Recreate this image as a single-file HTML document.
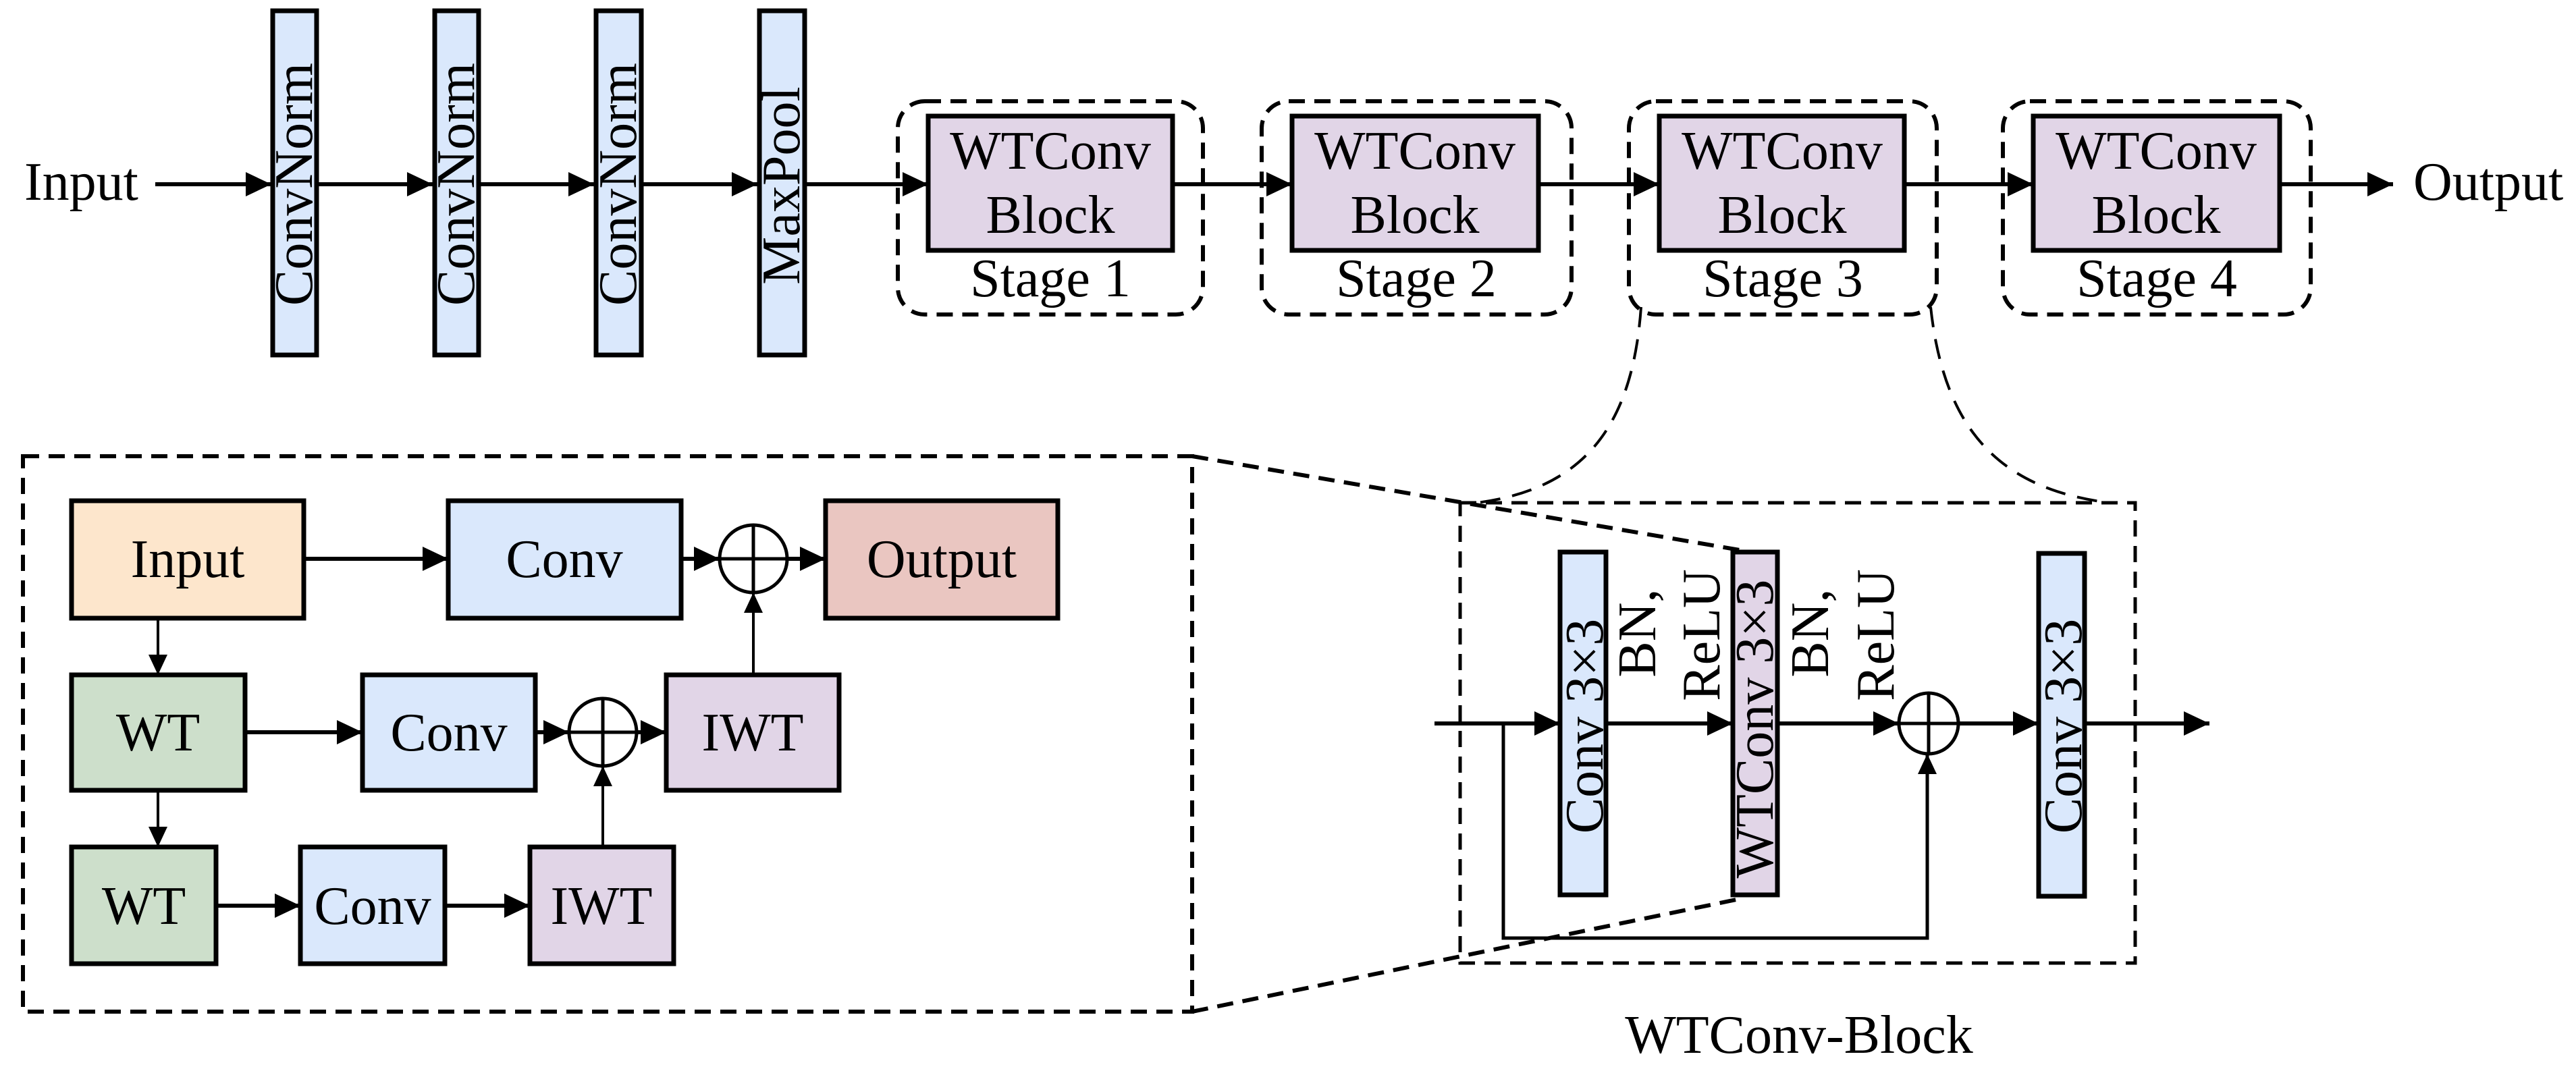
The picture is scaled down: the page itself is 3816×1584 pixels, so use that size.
<!DOCTYPE html>
<html><head><meta charset="utf-8"><style>
html,body{margin:0;padding:0;background:#fff;}
svg{display:block;}
text{font-family:"Liberation Serif",serif;font-size:80px;fill:#000;}
</style></head><body>
<svg width="3816" height="1584" viewBox="0 0 3816 1584" xmlns="http://www.w3.org/2000/svg">
<defs>
<marker id="a" markerUnits="userSpaceOnUse" markerWidth="38" markerHeight="36" viewBox="0 0 36 34" refX="36" refY="17" orient="auto"><path d="M0,0 L36,17 L0,34 z" fill="#000"/></marker>
<marker id="b" markerUnits="userSpaceOnUse" markerWidth="30" markerHeight="30" viewBox="0 0 30 28" refX="30" refY="14" orient="auto"><path d="M0,0 L30,14 L0,28 z" fill="#000"/></marker>
</defs>

<!-- TOP ROW -->
<text x="36" y="296" text-anchor="start">Input</text>
<g stroke="#000" stroke-width="6" fill="none" marker-end="url(#a)">
<line x1="230" y1="273" x2="402" y2="273"/>
<line x1="472" y1="273" x2="641" y2="273"/>
<line x1="712" y1="273" x2="880" y2="273"/>
<line x1="953" y1="273" x2="1122" y2="273"/>
<line x1="1195" y1="273" x2="1375" y2="273"/>
<line x1="1737" y1="273" x2="1914" y2="273"/>
<line x1="2279" y1="273" x2="2458" y2="273"/>
<line x1="2821" y1="273" x2="3012" y2="273"/>
<line x1="3377" y1="273" x2="3545" y2="273"/>
</g>
<text x="3575" y="296" text-anchor="start">Output</text>

<g stroke="#000" stroke-width="7" fill="#dae8fc">
<rect x="404" y="16" width="65" height="510"/>
<rect x="644" y="16" width="65" height="510"/>
<rect x="883" y="16" width="67" height="510"/>
<rect x="1125" y="16" width="67" height="510"/>
</g>
<text transform="rotate(-90 436 273)" x="436" y="299" text-anchor="middle">ConvNorm</text>
<text transform="rotate(-90 676 273)" x="676" y="299" text-anchor="middle">ConvNorm</text>
<text transform="rotate(-90 916 273)" x="916" y="299" text-anchor="middle">ConvNorm</text>
<text transform="rotate(-90 1158 275)" x="1158" y="301" text-anchor="middle">MaxPool</text>

<g stroke="#000" stroke-width="6" fill="none" stroke-dasharray="24 14">
<rect x="1330" y="150" width="452" height="316" rx="40"/>
<rect x="1869" y="150" width="459" height="316" rx="40"/>
<rect x="2413" y="150" width="456" height="316" rx="40"/>
<rect x="2967" y="150" width="456" height="316" rx="40"/>
</g>
<g stroke="#000" stroke-width="7" fill="#e1d5e7">
<rect x="1375" y="172" width="362" height="199"/>
<rect x="1914" y="172" width="365" height="199"/>
<rect x="2458" y="172" width="363" height="199"/>
<rect x="3012" y="172" width="365" height="199"/>
</g>
<g text-anchor="middle">
<text x="1556" y="250">WTConv</text><text x="1556" y="345">Block</text><text x="1556" y="439" font-size="76">Stage 1</text>
<text x="2096" y="250">WTConv</text><text x="2096" y="345">Block</text><text x="2098" y="439" font-size="76">Stage 2</text>
<text x="2640" y="250">WTConv</text><text x="2640" y="345">Block</text><text x="2641" y="439" font-size="76">Stage 3</text>
<text x="3194" y="250">WTConv</text><text x="3194" y="345">Block</text><text x="3195" y="439" font-size="76">Stage 4</text>
</g>

<!-- zoom curves -->
<g stroke="#000" stroke-width="4" fill="none" stroke-dasharray="30 18">
<path d="M2431,455 C2418,640 2340,725 2188,745"/>
<path d="M2860,455 C2880,640 2965,725 3125,745"/>
</g>

<!-- LOWER LEFT big dashed box and trapezoid lines -->
<g stroke="#000" stroke-width="6" fill="none" stroke-dasharray="24 14">
<rect x="34" y="676" width="1732" height="823"/>
<line x1="1766" y1="676" x2="2577" y2="815"/>
<line x1="1766" y1="1499" x2="2577" y2="1332"/>
</g>

<g stroke="#000" stroke-width="7">
<rect x="106" y="742" width="344" height="174" fill="#fde6cc"/>
<rect x="664" y="742" width="345" height="174" fill="#dae8fc"/>
<rect x="1223" y="742" width="344" height="174" fill="#eac6c1"/>
<rect x="106" y="1000" width="257" height="171" fill="#cddfcb"/>
<rect x="537" y="1000" width="256" height="171" fill="#dae8fc"/>
<rect x="987" y="1000" width="256" height="171" fill="#e1d5e7"/>
<rect x="106" y="1255" width="214" height="173" fill="#cddfcb"/>
<rect x="445" y="1255" width="214" height="173" fill="#dae8fc"/>
<rect x="785" y="1255" width="213" height="173" fill="#e1d5e7"/>
</g>
<g stroke="#000" stroke-width="5" fill="#fff">
<ellipse cx="1116" cy="828" rx="50" ry="50"/>
<ellipse cx="893" cy="1085" rx="50" ry="50"/>
</g>
<g stroke="#000" stroke-width="5">
<line x1="1066" y1="828" x2="1166" y2="828"/><line x1="1116" y1="778" x2="1116" y2="878"/>
<line x1="843" y1="1085" x2="943" y2="1085"/><line x1="893" y1="1035" x2="893" y2="1135"/>
</g>
<g stroke="#000" stroke-width="6" fill="none" marker-end="url(#a)">
<line x1="450" y1="828" x2="664" y2="828"/>
<line x1="1009" y1="828" x2="1066" y2="828"/>
<line x1="1166" y1="828" x2="1223" y2="828"/>
<line x1="363" y1="1085" x2="537" y2="1085"/>
<line x1="793" y1="1085" x2="843" y2="1085"/>
<line x1="943" y1="1085" x2="987" y2="1085"/>
<line x1="320" y1="1342" x2="445" y2="1342"/>
<line x1="659" y1="1342" x2="785" y2="1342"/>
</g>
<g stroke="#000" stroke-width="4" fill="none" marker-end="url(#b)">
<line x1="234" y1="916" x2="234" y2="1000"/>
<line x1="234" y1="1171" x2="234" y2="1255"/>
<line x1="893" y1="1255" x2="893" y2="1135"/>
<line x1="1116" y1="1000" x2="1116" y2="878"/>
</g>
<g text-anchor="middle">
<text x="278" y="855">Input</text>
<text x="836" y="855">Conv</text>
<text x="1395" y="855">Output</text>
<text x="234" y="1112">WT</text>
<text x="665" y="1112">Conv</text>
<text x="1115" y="1112">IWT</text>
<text x="213" y="1369">WT</text>
<text x="552" y="1369">Conv</text>
<text x="891" y="1369">IWT</text>
</g>

<!-- WTConv-Block detail -->
<rect x="2163" y="745" width="1000" height="682" stroke="#000" stroke-width="5" fill="none" stroke-dasharray="24 14"/>
<g stroke="#000" stroke-width="7">
<rect x="2311" y="818" width="68" height="508" fill="#dae8fc"/>
<rect x="2567" y="818" width="66" height="508" fill="#e1d5e7"/>
<rect x="3020" y="820" width="68" height="508" fill="#dae8fc"/>
</g>
<!-- redraw trapezoid portion over WTConv bar top/bottom -->
<g stroke="#000" stroke-width="5" fill="none">
<polyline points="2227,1072 2227,1390 2855,1390 2855,1117" marker-end="url(#b)"/>
</g>
<ellipse cx="2857" cy="1072" rx="44" ry="45" stroke="#000" stroke-width="5" fill="#fff"/>
<g stroke="#000" stroke-width="5">
<line x1="2813" y1="1072" x2="2901" y2="1072"/><line x1="2857" y1="1027" x2="2857" y2="1117"/>
</g>
<g stroke="#000" stroke-width="6" fill="none" marker-end="url(#a)">
<line x1="2125" y1="1072" x2="2311" y2="1072"/>
<line x1="2379" y1="1072" x2="2567" y2="1072"/>
<line x1="2633" y1="1072" x2="2813" y2="1072"/>
<line x1="2901" y1="1072" x2="3020" y2="1072"/>
<line x1="3088" y1="1072" x2="3273" y2="1072"/>
</g>
<text transform="rotate(-90 2345 1076)" x="2345" y="1105" text-anchor="middle" font-size="78">Conv 3×3</text>
<text transform="rotate(-90 2600 1080)" x="2600" y="1106" text-anchor="middle" font-size="78">WTConv 3×3</text>
<text transform="rotate(-90 3054 1076)" x="3054" y="1105" text-anchor="middle" font-size="78">Conv 3×3</text>
<text transform="rotate(-90 2425 938)" x="2425" y="965" text-anchor="middle" font-size="78">BN,</text>
<text transform="rotate(-90 2520 941)" x="2520" y="968" text-anchor="middle" font-size="78">ReLU</text>
<text transform="rotate(-90 2681 938)" x="2681" y="965" text-anchor="middle" font-size="78">BN,</text>
<text transform="rotate(-90 2778 941)" x="2778" y="968" text-anchor="middle" font-size="78">ReLU</text>
<text x="2665" y="1560" text-anchor="middle">WTConv-Block</text>
</svg>
</body></html>
